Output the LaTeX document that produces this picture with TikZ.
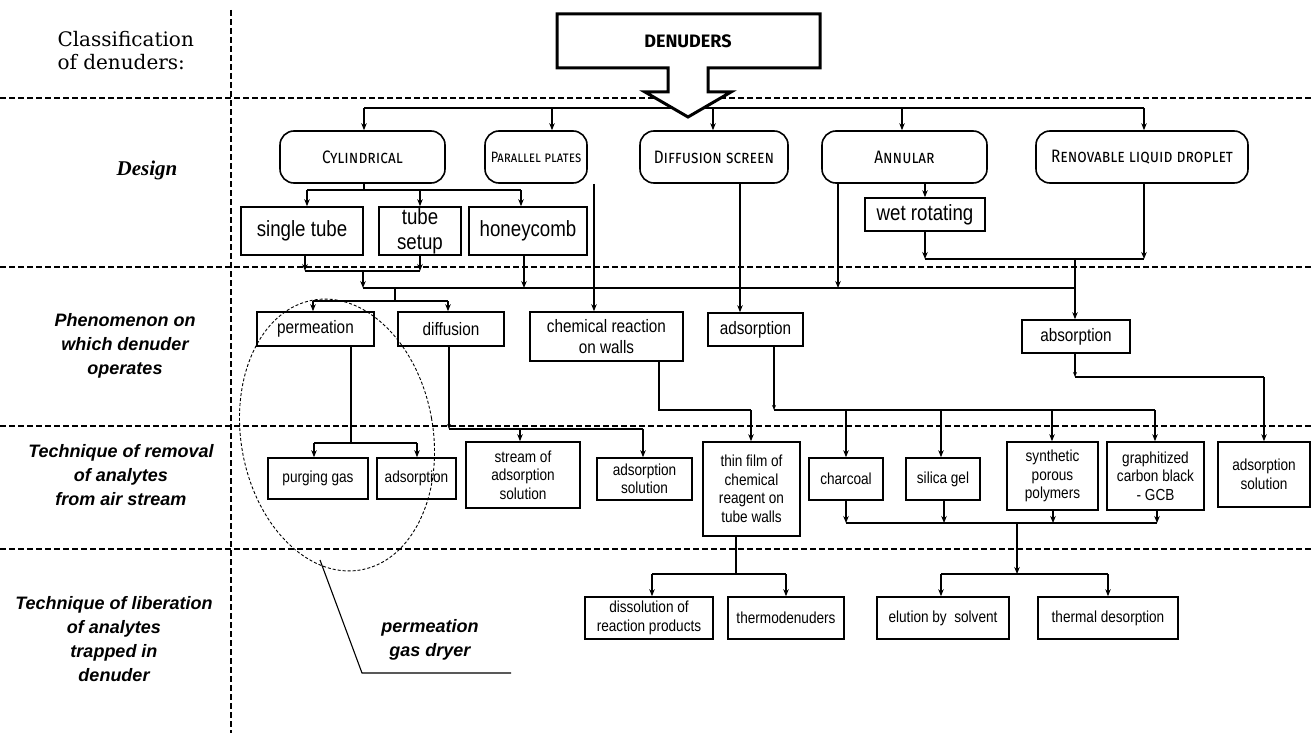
\documentclass[tikz,border=0pt]{standalone}
\usepackage{fontspec}
\setmainfont{Liberation Sans}
\newfontfamily\boxfont[FakeStretch=0.85]{Liberation Sans}
\newfontfamily\serifA{DejaVu Serif}
\newfontfamily\labfont{Liberation Sans}
\newfontfamily\desfont{Liberation Serif}
\newfontfamily\scfont[Letters=SmallCaps,FakeStretch=0.85]{Fira Sans}
\newfontfamily\denfont{Fira Sans}
\usetikzlibrary{arrows.meta,calc}
\tikzset{
  sep/.style={line width=1.8pt, dash pattern=on 6pt off 3pt},
  conn/.style={line width=1.1pt},
  arr/.style={conn, -{Stealth[length=7pt,width=5.5pt]}},
  arrS/.style={conn, -{Stealth[length=5pt,width=4pt]}},
  bx/.style={draw, line width=1.6pt, inner sep=0pt, align=center, fill=white},
  rbx/.style={draw, line width=1.6pt, rounded corners=14pt, inner sep=0pt, align=center, font=\scfont\fontsize{18}{20}\selectfont},
  fA/.style={font=\boxfont\fontsize{22}{25}\selectfont},
  fB/.style={font=\boxfont\fontsize{18}{21}\selectfont},
  fC/.style={font=\boxfont\fontsize{16}{18.5}\selectfont},
  lab/.style={font=\labfont\bfseries\itshape\fontsize{18}{24}\selectfont, align=center},
}
\begin{document}
\begin{tikzpicture}[x=1pt,y=-1pt]
\useasboundingbox (0,0) rectangle (1314,733);
% separators
\draw[sep] (231,10) -- (231,733);
\draw[sep] (0,98) -- (1314,98);
\draw[sep] (0,267) -- (1314,267);
\draw[sep] (0,426) -- (1314,426);
\draw[sep] (0,549) -- (1314,549);
% row labels
\node[anchor=west, align=left, font=\serifA\fontsize{20}{23}\selectfont] (lcls) at (54,51) {Classification\\of denuders:};
\node[font=\desfont\bfseries\itshape\fontsize{21}{23}\selectfont] (ldes) at (147,170) {Design};
\node[lab] (lphe) at (125,346) {Phenomenon on\\which denuder\\operates};
\node[lab] (ltec) at (121,475) {Technique of removal\\of analytes\\from air stream};
\node[lab] (llib) at (114,639) {Technique of liberation\\of analytes\\trapped in\\denuder};
% design row
\node[rbx, minimum width=165pt, minimum height=52pt] (cyl) at (362.5,157) {Cylindrical};
\node[rbx, minimum width=102pt, minimum height=52pt, font=\scfont\fontsize{15}{18}\selectfont] (par) at (536,157) {Parallel plates};
\node[rbx, minimum width=148pt, minimum height=52pt] (dif) at (714,157) {Diffusion screen};
\node[rbx, minimum width=165pt, minimum height=52pt] (ann) at (904.5,157) {Annular};
\node[rbx, minimum width=212pt, minimum height=52pt] (ren) at (1142,157) {Renovable liquid droplet};
% design sub-boxes
\node[bx, fA, minimum width=122pt, minimum height=48pt] (st) at (302,231) {single tube};
\node[bx, fA, minimum width=82pt, minimum height=48pt] (ts) at (420,231) {tube\\setup};
\node[bx, fA, minimum width=118pt, minimum height=48pt] (hc) at (528,231) {honeycomb};
\node[bx, fA, minimum width=120pt, minimum height=33pt] (wr) at (925,214.5) {wet rotating};
% phenomenon
\node[bx, fB, minimum width=117pt, minimum height=34pt] (perm) at (315.5,329) {permeation};
\node[bx, fB, minimum width=106pt, minimum height=34pt] (diff) at (451,329) {diffusion};
\node[bx, fB, minimum width=153pt, minimum height=49pt] (chem) at (606.5,336.5) {chemical reaction\\on walls};
\node[bx, fB, minimum width=95pt, minimum height=33pt] (ads) at (755.5,329.5) {adsorption};
\node[bx, fB, minimum width=108pt, minimum height=33pt] (abso) at (1076,336.5) {absorption};
% technique of removal
\node[bx, fC, minimum width=100pt, minimum height=41pt] (pg) at (318,478.5) {purging gas};
\node[bx, fC, minimum width=79pt, minimum height=41pt] (ads2) at (416.5,478.5) {adsorption};
\node[bx, fC, minimum width=114pt, minimum height=66pt] (stream) at (523,475) {stream of\\adsorption\\solution};
\node[bx, fC, minimum width=95pt, minimum height=42pt] (adsol1) at (644.5,479) {adsorption\\solution};
\node[bx, fC, minimum width=97pt, minimum height=94pt] (thin) at (751.5,489) {thin film of\\chemical\\reagent on\\tube walls};
\node[bx, fC, minimum width=74pt, minimum height=42pt] (char) at (846,479) {charcoal};
\node[bx, fC, minimum width=74pt, minimum height=42pt] (sil) at (943,479) {silica gel};
\node[bx, fC, minimum width=91pt, minimum height=68pt] (syn) at (1052.5,476) {synthetic\\porous\\polymers};
\node[bx, fC, minimum width=97pt, minimum height=68pt] (gcb) at (1155.5,476) {graphitized\\carbon black\\- GCB};
\node[bx, fC, minimum width=92pt, minimum height=65pt] (adsol2) at (1264,474.5) {adsorption\\solution};
% liberation
\node[bx, fC, minimum width=128pt, minimum height=42pt] (diss) at (649,618) {dissolution of\\reaction products};
\node[bx, fC, minimum width=116pt, minimum height=42pt] (thermo) at (786,618) {thermodenuders};
\node[bx, fC, minimum width=132pt, minimum height=42pt] (elu) at (943,618) {elution by\ \ solvent};
\node[bx, fC, minimum width=140pt, minimum height=42pt] (therm) at (1108,618) {thermal desorption};
% top bus
\coordinate (tb1) at (364,108);
\coordinate (tb2) at (1144,108);
\draw[conn] (tb1) -- (tb2);
\foreach \x/\n in {364/cyl,552/par,713/dif,902/ann,1144/ren}
  \draw[arr] (\x,108) -- (\x,0 |- \n.north);
% cylindrical children
\draw[conn] (364,0 |- cyl.south) -- (364,190);
\draw[conn] (307,190) -- (521,190);
\draw[arr] (307,190) -- (307,0 |- st.north);
\draw[arr] (420,190) -- (420,0 |- ts.north);
\draw[arr] (521,190) -- (521,0 |- hc.north);
% design -> phenomenon
\draw[arr] (305,0 |- st.south) -- (305,271);
\draw[arr] (420,0 |- ts.south) -- (420,271);
\draw[conn] (305,271) -- (420,271);
\draw[arr] (363,271) -- (363,288);
\draw[arr] (524,0 |- hc.south) -- (524,288);
\draw[arr] (594,0 |- par.south) -- (594,0 |- chem.north);
\draw[arr] (740,0 |- dif.south) -- (740,0 |- ads.north);
\draw[arr] (838,0 |- ann.south) -- (838,288);
\draw[arr] (925,0 |- ann.south) -- (925,0 |- wr.north);
\draw[arr] (925,0 |- wr.south) -- (925,259);
\draw[arr] (1144,0 |- ren.south) -- (1144,259);
\draw[conn] (925,259) -- (1144,259);
\draw[arr] (1075,259) -- (1075,0 |- abso.north);
\draw[conn] (363,288) -- (1075,288);
\draw[conn] (395,288) -- (395,301);
\draw[conn] (313,301) -- (448,301);
\draw[arr] (313,301) -- (313,0 |- perm.north);
\draw[arr] (448,301) -- (448,0 |- diff.north);
% phenomenon -> technique
\draw[conn] (351,0 |- perm.south) -- (351,443);
\draw[conn] (314,443) -- (417,443);
\draw[arr] (314,443) -- (314,0 |- pg.north);
\draw[arr] (417,443) -- (417,0 |- ads2.north);
\draw[arrS] (449,0 |- diff.south) -- (449,429);
\draw[conn] (449,429) -- (643,429);
\draw[arr] (520,429) -- (520,0 |- stream.north);
\draw[arr] (643,429) -- (643,0 |- adsol1.north);
\draw[conn] (659,0 |- chem.south) -- (659,410) -- (751,410);
\draw[arr] (751,410) -- (751,0 |- thin.north);
\draw[arrS] (774,0 |- ads.south) -- (774,410);
\draw[conn] (774,410) -- (1155,410);
\draw[arr] (846,410) -- (846,0 |- char.north);
\draw[arr] (941,410) -- (941,0 |- sil.north);
\draw[arr] (1052,410) -- (1052,0 |- syn.north);
\draw[arr] (1155,410) -- (1155,0 |- gcb.north);
\draw[arrS] (1075,0 |- abso.south) -- (1075,377);
\draw[conn] (1075,377) -- (1264,377);
\draw[arr] (1264,377) -- (1264,0 |- adsol2.north);
% technique -> liberation
\draw[arr] (846,0 |- char.south) -- (846,523);
\draw[arr] (944,0 |- sil.south) -- (944,523);
\draw[arr] (1053,0 |- syn.south) -- (1053,523);
\draw[arr] (1157,0 |- gcb.south) -- (1157,523);
\draw[conn] (846,523) -- (1157,523);
\draw[arr] (1017,523) -- (1017,574);
\draw[conn] (941,574) -- (1108,574);
\draw[arr] (941,574) -- (941,0 |- elu.north);
\draw[arr] (1108,574) -- (1108,0 |- therm.north);
\draw[conn] (736,0 |- thin.south) -- (736,574);
\draw[conn] (652,574) -- (786,574);
\draw[arr] (652,574) -- (652,0 |- diss.north);
\draw[arr] (786,574) -- (786,0 |- thermo.north);
% annotation
\draw[line width=0.9pt, dash pattern=on 3pt off 2pt, rotate around={10:(337,435)}] (337,435) ellipse [x radius=96pt, y radius=137pt];
\coordinate (e1) at (320,560);
\coordinate (e2) at (362,673);
\coordinate (e3) at (511,673);
\draw[conn] (e1) -- (e2) -- (e3);
\node[lab] (pgd) at (430,640) {permeation\\gas dryer};
% DENUDERS block arrow
\draw[line width=3pt, fill=white, line join=miter] (557,14) -- (820,14) -- (820,68) -- (708,68) -- (708,92) -- (731,92) -- (688,117) -- (645,92) -- (668,92) -- (668,68) -- (557,68) -- cycle;
\node[font=\denfont\bfseries\fontsize{18}{20}\selectfont] (den) at (688,41) {DENUDERS};
\end{tikzpicture}
\end{document}
